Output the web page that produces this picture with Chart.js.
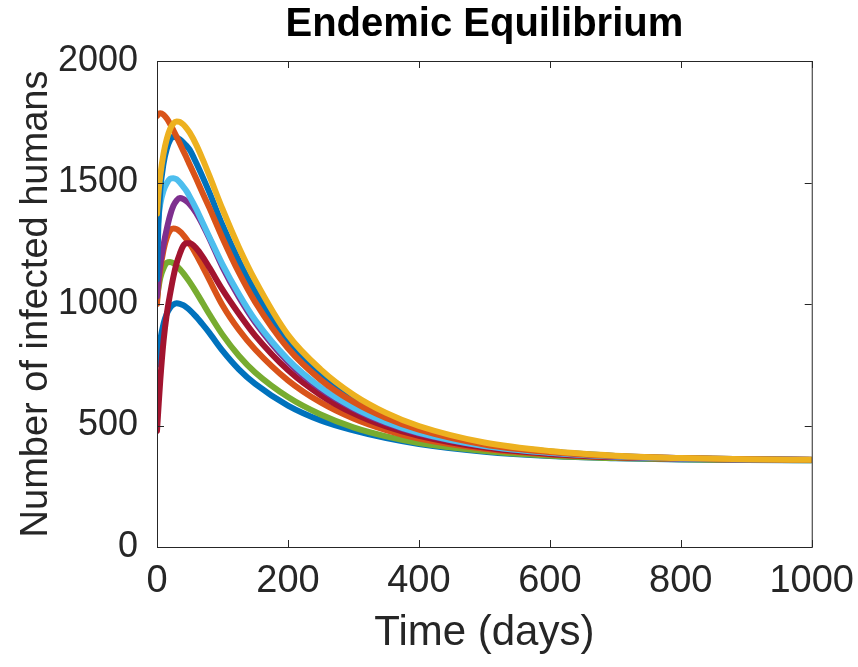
<!DOCTYPE html>
<html><head><meta charset="utf-8">
<script src="https://cdn.jsdelivr.net/npm/chart.js@4/dist/chart.umd.min.js"></script>
<style>html,body{margin:0;padding:0;background:#fff}</style>
</head><body>
<canvas id="c" width="858" height="667"></canvas>
<script>
const chartTitle = 'Endemic Equilibrium';
const xTitle = 'Time (days)';
const yTitle = 'Number of infected humans';
const xTicks = [0, 200, 400, 600, 800, 1000];
const yTicks = [0, 500, 1000, 1500, 2000];

const times = [0,2,5,10,15,20,25,30,35,40,45,50,60,70,80,100,125,150,200,250,300,350,400,500,600,700,800,900,1000];

const yellowSeries    = [1371,1447,1528,1619,1680,1720,1743,1751,1749,1739,1724,1705,1655,1594,1528,1391,1234,1097,873,731,627,552,498,430,395,376,366,361,359];
const orangeSeries1   = [1773,1781,1785,1779,1763,1741,1715,1688,1660,1631,1603,1573,1515,1455,1396,1272,1130,1008,818,688,597,531,483,422,391,374,366,361,359];
const blueSeries2     = [1102,1315,1467,1578,1639,1675,1688,1685,1677,1665,1651,1634,1580,1521,1459,1325,1178,1051,846,710,612,542,490,425,393,375,366,361,359];
const lightBlueSeries = [1274,1345,1411,1467,1497,1515,1518,1513,1500,1483,1465,1442,1391,1333,1276,1163,1041,934,772,657,574,514,470,416,388,372,364,360,358];
const purpleSeries    = [1031,1092,1163,1244,1310,1365,1404,1426,1436,1432,1423,1410,1374,1325,1270,1152,1029,924,762,650,569,509,467,415,387,372,364,360,358];
const redSeries       = [478,564,686,848,960,1041,1112,1168,1208,1239,1250,1250,1229,1193,1150,1059,960,870,728,625,550,496,458,409,383,370,364,360,358];
const orangeSeries2   = [1000,1071,1142,1223,1274,1303,1311,1308,1298,1284,1267,1248,1203,1152,1099,995,894,813,686,595,529,481,446,404,381,369,363,360,358];
const greenSeries     = [1021,1061,1107,1147,1170,1173,1168,1157,1143,1127,1109,1090,1048,1003,958,874,787,718,617,545,492,455,428,395,376,366,361,359,357];
const blueSeries1     = [749,797,853,919,960,985,998,1003,1001,995,986,975,947,915,881,808,731,671,582,521,480,448,424,392,374,365,360,358,357];

const series = [
  {vals: yellowSeries, color: '#EDB120'},
  {vals: orangeSeries1, color: '#D95319'},
  {vals: blueSeries2, color: '#0072BD'},
  {vals: lightBlueSeries, color: '#4DBEEE'},
  {vals: purpleSeries, color: '#7E2F8E'},
  {vals: redSeries, color: '#A2142F'},
  {vals: orangeSeries2, color: '#D95319'},
  {vals: greenSeries, color: '#77AC30'},
  {vals: blueSeries1, color: '#0072BD'}
];

const datasets = series.map(s => ({
  data: times.map((t, i) => ({x: t, y: s.vals[i]})),
  borderColor: s.color,
  backgroundColor: s.color,
  borderWidth: 6,
  pointRadius: 0,
  fill: false,
  cubicInterpolationMode: 'monotone',
  borderCapStyle: 'round',
  borderJoinStyle: 'round'
}));

const FONT = "'Liberation Sans', Arial, Helvetica, sans-serif";
const AXC = '#262626';

const boxPlugin = {
  id: 'box',
  afterDatasetsDraw(chart) {
    const {ctx, chartArea: a, scales: {x, y}} = chart;
    ctx.save();
    ctx.strokeStyle = AXC;
    ctx.lineWidth = 1;
    ctx.strokeRect(a.left + 0.5, a.top + 0.5, a.right - a.left, a.bottom - a.top);
    const L = 7;
    ctx.beginPath();
    xTicks.forEach(v => {
      const px = Math.round(x.getPixelForValue(v)) + 0.5;
      ctx.moveTo(px, a.bottom); ctx.lineTo(px, a.bottom - L);
      ctx.moveTo(px, a.top); ctx.lineTo(px, a.top + L);
    });
    yTicks.forEach(v => {
      const py = Math.round(y.getPixelForValue(v)) + 0.5;
      ctx.moveTo(a.left, py); ctx.lineTo(a.left + L, py);
      ctx.moveTo(a.right, py); ctx.lineTo(a.right - L, py);
    });
    ctx.stroke();
    ctx.restore();
  }
};

new Chart(document.getElementById('c'), {
  type: 'line',
  data: {datasets},
  options: {
    responsive: false,
    animation: false,
    layout: {padding: {left: 0, right: 46, top: 0, bottom: 0}},
    plugins: {
      legend: {display: false},
      tooltip: {enabled: false},
      title: {
        display: true, text: chartTitle, color: '#000', fullSize: false,
        font: {family: FONT, size: 40, weight: 'bold'},
        padding: {top: 1, bottom: 12}
      }
    },
    scales: {
      x: {
        type: 'linear', min: 0, max: 1000,
        afterBuildTicks: s => { s.ticks = xTicks.map(v => ({value: v})); },
        ticks: {color: AXC, font: {family: FONT, size: 38}, padding: 4, maxRotation: 0, autoSkip: false,
                callback: v => String(v)},
        grid: {display: false}, border: {display: false},
        title: {display: true, text: xTitle, color: AXC, font: {family: FONT, size: 42}, padding: {top: 0, bottom: 8}},
        afterFit: s => { s.height = 120; }
      },
      y: {
        type: 'linear', min: 0, max: 2000,
        afterBuildTicks: s => { s.ticks = yTicks.map(v => ({value: v})); },
        ticks: {color: AXC, font: {family: FONT, size: 36}, padding: 11, autoSkip: false,
                callback: v => String(v)},
        grid: {display: false}, border: {display: false},
        title: {display: true, text: yTitle, color: AXC, font: {family: FONT, size: 38}, padding: {top: 14, bottom: 0}},
        afterFit: s => { s.width = 157; }
      }
    }
  },
  plugins: [boxPlugin]
});
</script>
</body></html>
